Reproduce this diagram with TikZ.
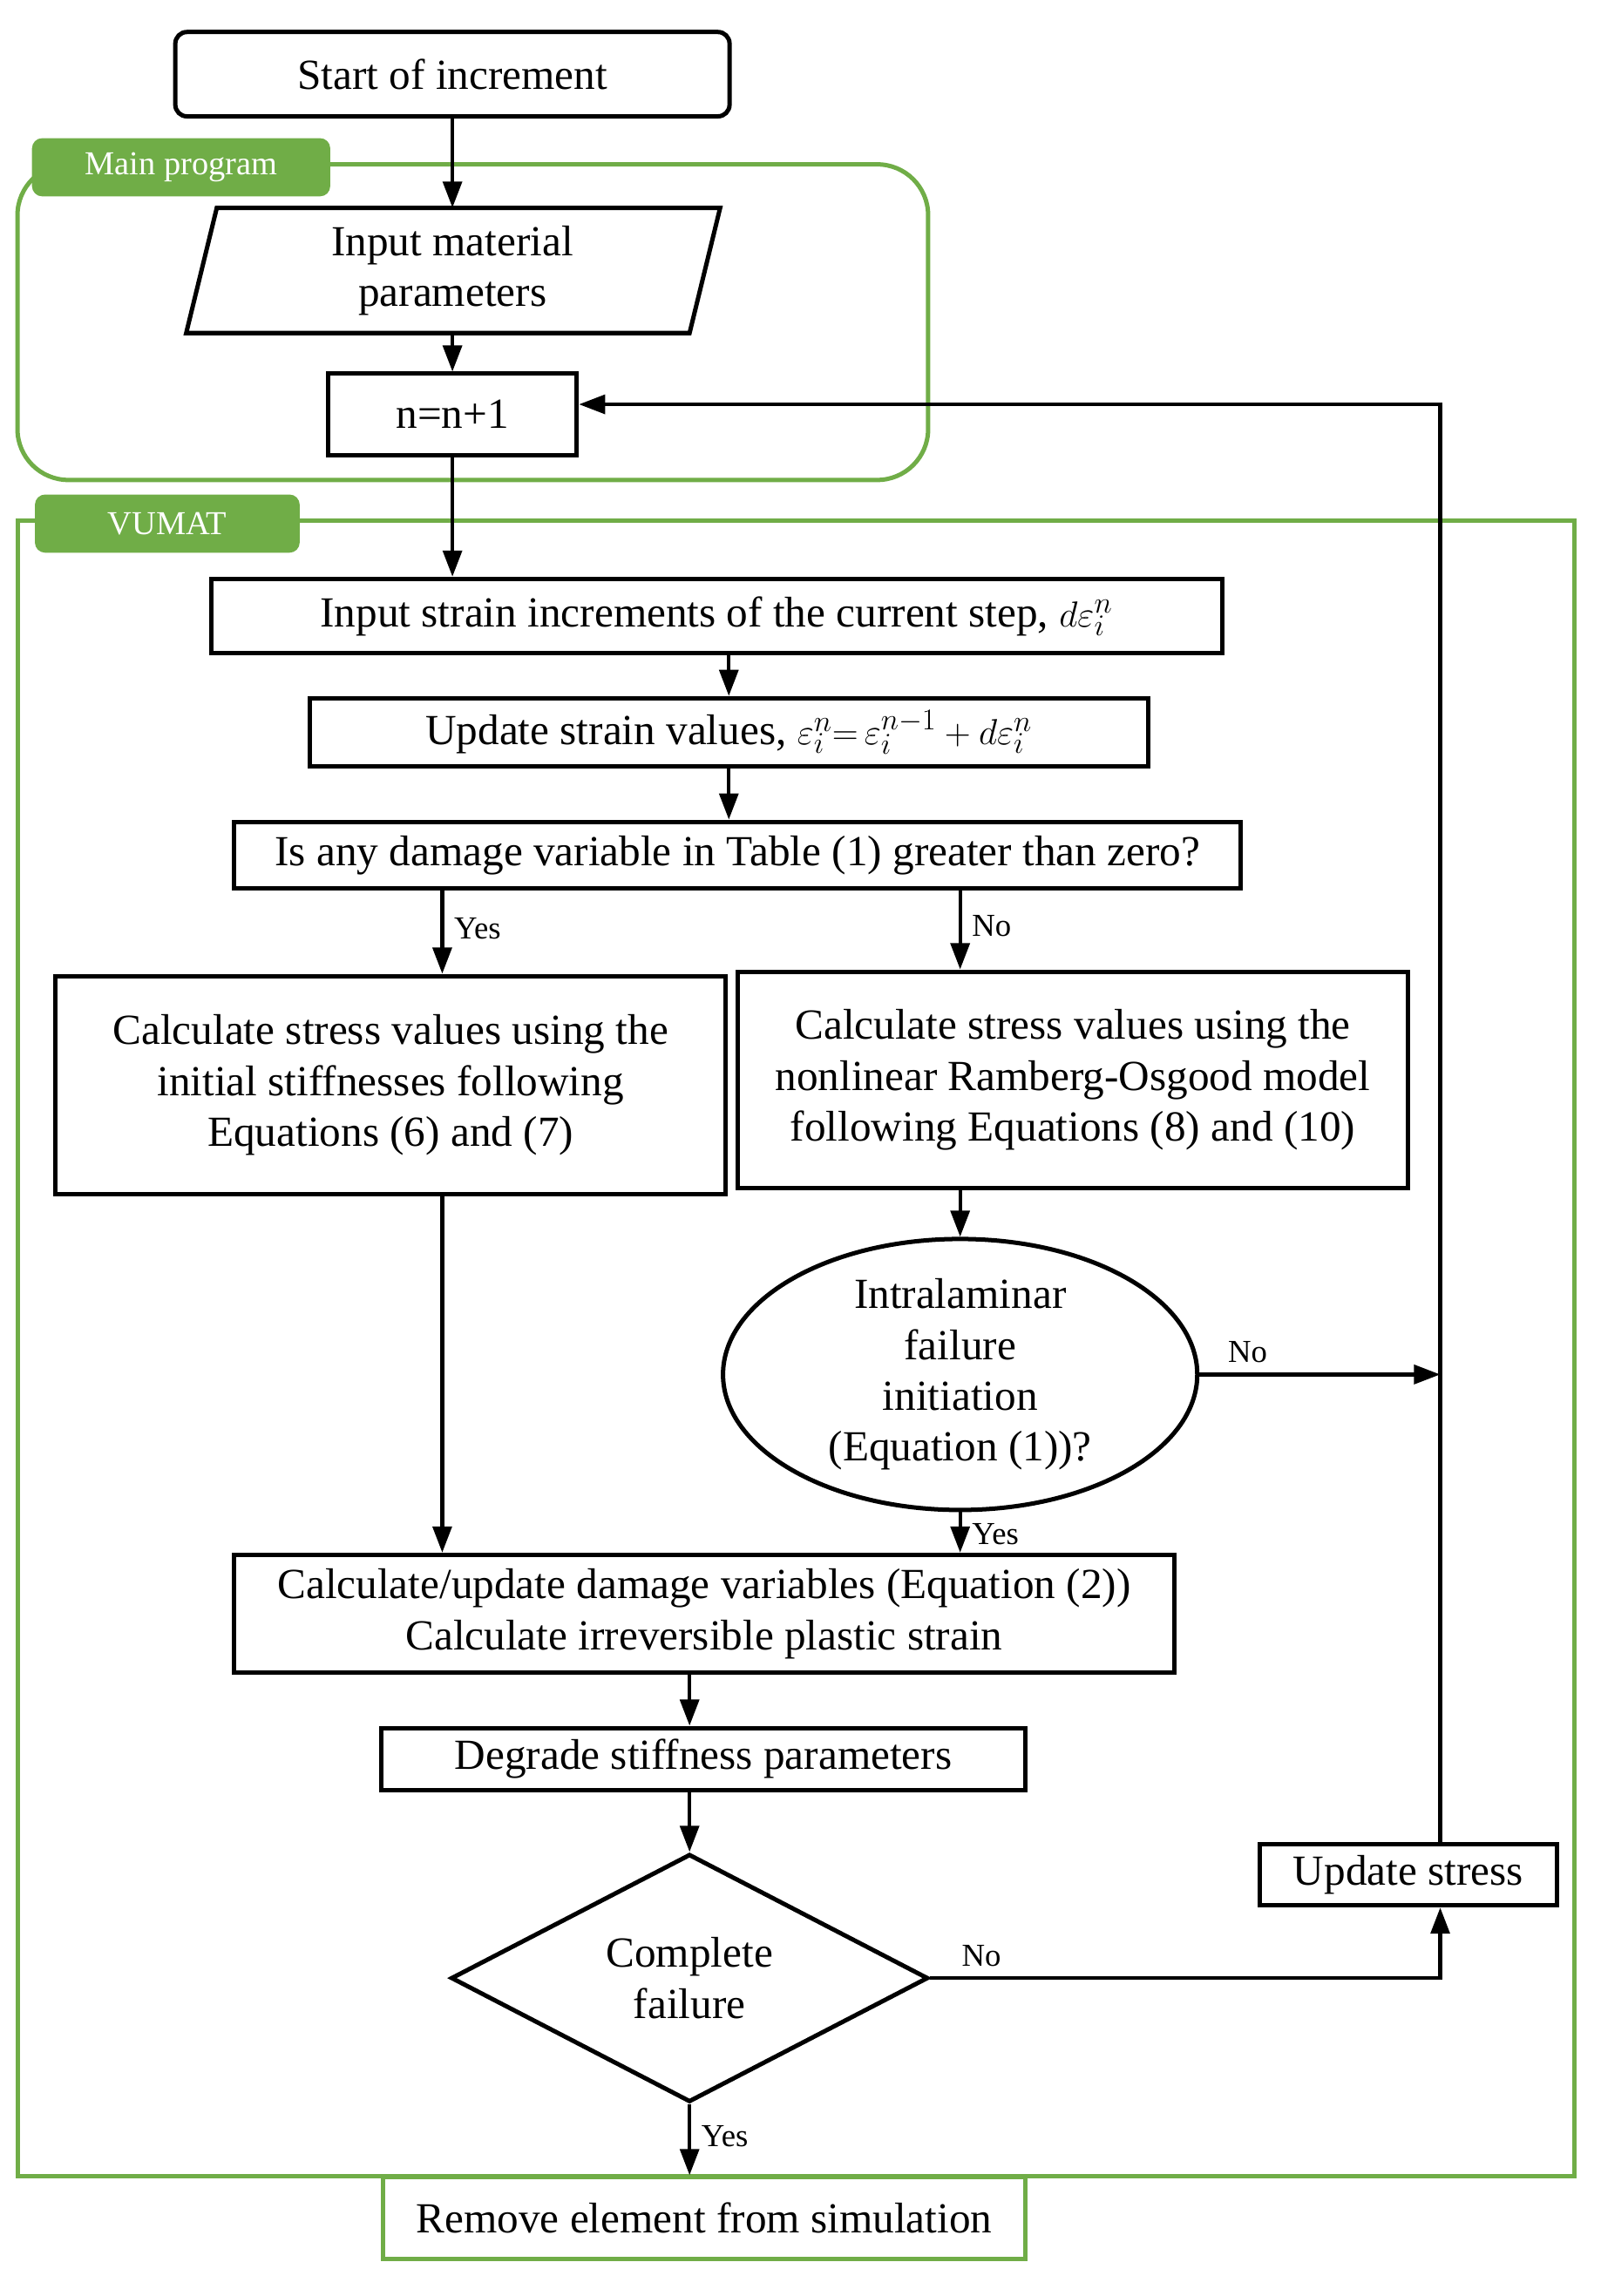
\documentclass[tikz,border=0pt]{standalone}
\usepackage{fontspec}
\setmainfont{Liberation Serif}
\usetikzlibrary{shapes.geometric,arrows.meta}
\definecolor{vgreen}{RGB}{112,173,71}
\begin{document}
\begin{tikzpicture}[x=1pt,y=-1pt,
  every node/.style={font=\fontsize{29.5}{35}\selectfont, align=center},
  box/.style={draw, line width=3pt, inner sep=0pt},
  gbox/.style={draw=vgreen, line width=3pt, inner sep=0pt},
  tab/.style={fill=vgreen, rounded corners=7pt, text=white, inner sep=0pt, font=\fontsize{23}{28}\selectfont},
  lbl/.style={font=\fontsize{22}{26}\selectfont, inner sep=7pt},
  arr/.style={-{Triangle[length=18pt,width=13pt]}, line width=2.5pt},
  ln/.style={line width=2.5pt}]
\useasboundingbox (0,0) rectangle (1100,1578.6);

% containers
\draw[vgreen, line width=3pt, rounded corners=35pt] (12,113) rectangle (638,330);
\node[tab, minimum width=205, minimum height=40] (tmain) at (124.5,115) {Main program};
\draw[vgreen, line width=3pt] (12,358) rectangle (1082,1496);
\node[tab, minimum width=182, minimum height=40] (tvumat) at (115,360) {VUMAT};

% nodes
\node[box, rounded corners=8pt, minimum width=381, minimum height=58] (start) at (311,51) {Start of increment};
\node[inner sep=0pt, minimum width=349, minimum height=86] (par) at (311,186) {Input material\\parameters};
\draw[line width=3pt] (128,229) -- (149,143) -- (495,143) -- (474,229) -- cycle;
\node[box, minimum width=171, minimum height=56] (n) at (311,285) {n=n+1};

\node[box, minimum width=695, minimum height=51] (in) at (492.5,423.5) {Input strain increments of the current step, $d\varepsilon_i^n$};
\node[box, minimum width=576, minimum height=47] (up) at (501,503.5) {Update strain values, $\varepsilon_i^n{=}\,\varepsilon_i^{n-1}+d\varepsilon_i^n$};
\node[box, minimum width=692, minimum height=46] (dmg) at (507,588) {Is any damage variable in Table (1) greater than zero?};

\node[box, minimum width=461, minimum height=150] (cl) at (268.5,746) {Calculate stress values using the\\initial stiffnesses following\\Equations (6) and (7)};
\node[box, minimum width=461, minimum height=149] (cr) at (737.5,742.5) {Calculate stress values using the\\nonlinear Ramberg-Osgood model\\following Equations (8) and (10)};

\node[ellipse, draw, line width=3pt, minimum width=326, minimum height=172, inner sep=0pt] (ell) at (660,945) {Intralaminar\\failure\\initiation\\(Equation (1))?};

\node[box, minimum width=646, minimum height=81] (cu) at (484,1109.5) {Calculate/update damage variables (Equation (2))\\Calculate irreversible plastic strain};
\node[box, minimum width=443, minimum height=43] (deg) at (483.5,1209.5) {Degrade stiffness parameters};
\node[diamond, draw, line width=3pt, minimum width=328, minimum height=170, inner sep=0pt] (dia) at (474,1360) {Complete\\failure};
\node[box, minimum width=204, minimum height=42] (us) at (968,1289) {Update stress};
\node[gbox, minimum width=442, minimum height=56] (rm) at (484,1525) {Remove element from simulation};

\coordinate (ya) at (304,0);
\coordinate (lp) at (990,278);

% connectors
\draw[arr] (start.south) -- (par.north);
\draw[arr] (par.south) -- (n.north);
\draw[arr] (n.south) -- (n.south |- in.north);
\draw[arr] (up.north |- in.south) -- (up.north);
\draw[arr] (up.south) -- (up.south |- dmg.north);
\draw[arr] (dmg.south -| ya) -- node[lbl, right, pos=0.45] {Yes} (cl.north -| ya);
\draw[arr] (dmg.south -| ell.north) -- node[lbl, right, pos=0.45] {No} (cr.north -| ell.north);
\draw[arr] (cr.south -| ell.north) -- (ell.north);
\draw[arr] (cl.south -| ya) -- (cu.north -| ya);
\draw[arr] (ell.south) -- node[lbl, right, pos=0.55] {Yes} (ell.south |- cu.north);
\draw[arr] (ell.east) -- node[lbl, above, pos=0.2] {No} (ell.east -| lp);
\draw[arr] (cu.south -| dia.north) -- (deg.north -| dia.north);
\draw[arr] (deg.south -| dia.north) -- (dia.north);
\draw[arr] (dia.south) -- node[lbl, right, pos=0.45] {Yes} (rm.north -| dia.south);
\draw[arr] (dia.east) -- node[lbl, above, pos=0.1] {No} (dia.east -| lp) -- (us.south -| lp);
\draw[arr] (us.north -| lp) -- (lp) -- (n.east |- lp);
\end{tikzpicture}
\end{document}
